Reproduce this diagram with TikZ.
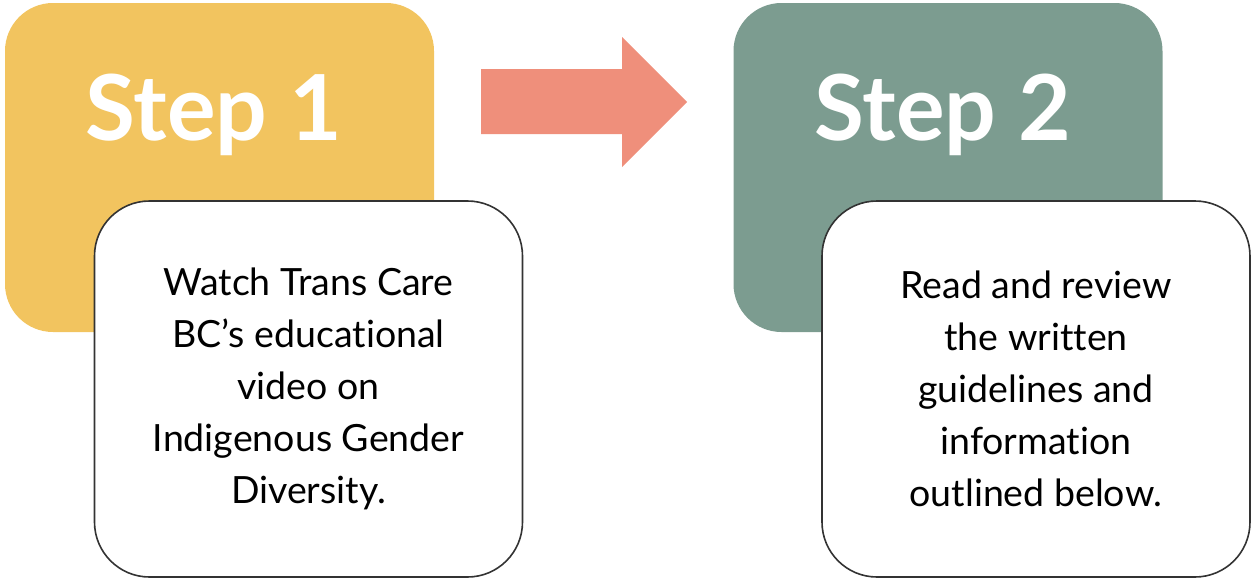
\documentclass[tikz,border=0pt]{standalone}
\usepackage{fontspec}
\setmainfont{Lato}[RawFeature=-liga]
\usepackage{tikz}
\usetikzlibrary{positioning}
\definecolor{stepyellow}{HTML}{F2C45F}
\definecolor{stepgreen}{HTML}{7C9C90}
\definecolor{arrowsalmon}{HTML}{EF8F7B}
\definecolor{boxline}{HTML}{333333}

\begin{document}
\begin{tikzpicture}[x=1pt,y=-1pt,
  colorbox/.style={rectangle,rounded corners=48pt,minimum width=429pt,minimum height=329pt,inner sep=0pt},
  notebox/.style={rectangle,draw=boxline,line width=1.6pt,fill=white,rounded corners=55pt,
    minimum width=428pt,minimum height=376pt,inner sep=0pt,align=center,
    font=\fontsize{37.5}{52}\selectfont},
  steplabel/.style={anchor=base,text=white,font=\fontsize{91}{100}\selectfont\bfseries}]
\useasboundingbox (0,0) rectangle (1254,579);
% coloured step boxes
\node[colorbox,fill=stepyellow] (step1) at (219.5,167.5) {};
\node[colorbox,fill=stepgreen] (step2) at (948,167.5) {};
\node[steplabel] (step1label) at (214,140) {Step 1};
\node[steplabel] (step2label) at (943,140) {Step 2};
% the arrow in between
\coordinate (arrowtail) at (481,102);
\fill[arrowsalmon] (arrowtail) ++(0,-33) -- ++(141,0) -- ++(0,-32) -- (687,102)
  -- (622,167) -- ++(0,-33) -- (481,134) -- cycle;
% white text boxes
\node[notebox] (note1) at (308.5,389) {Watch Trans Care\\BC’s educational\\video on\\Indigenous Gender\\Diversity.};
\node[notebox] (note2) at (1036,389) {Read and review\\the written\\guidelines and\\information\\outlined below.};
\end{tikzpicture}
\end{document}
